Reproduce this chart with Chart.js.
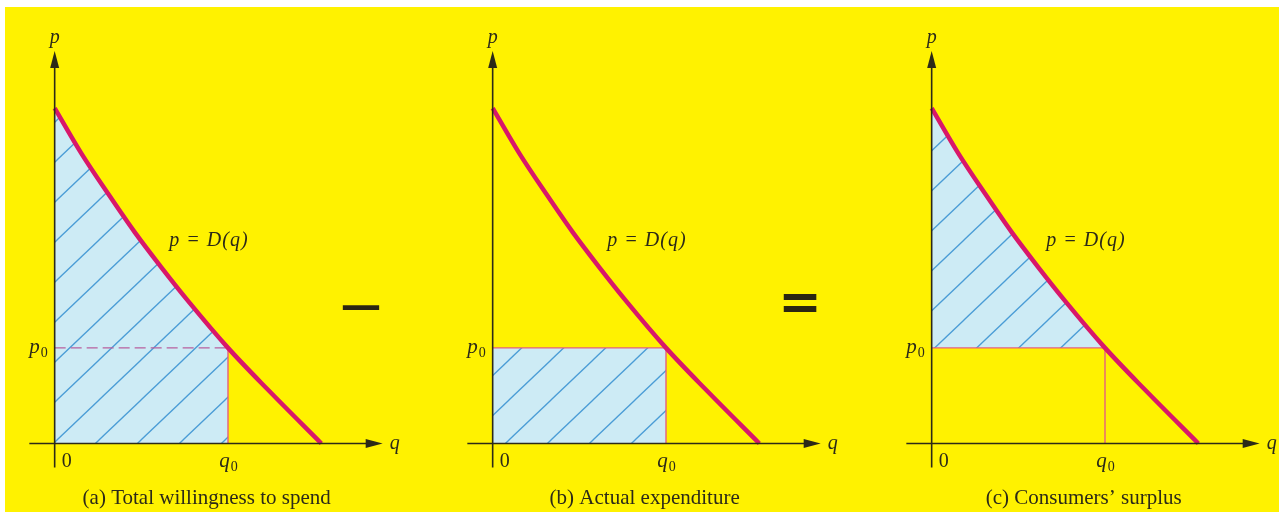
<!DOCTYPE html>
<html>
<head>
<meta charset="utf-8">
<script src="https://cdn.jsdelivr.net/npm/chart.js@4.4.1/dist/chart.umd.min.js"></script>
<style>
  body { margin: 0; width: 1285px; height: 518px; background: #fff; position: relative; overflow: hidden; }
  #bg { position: absolute; left: 5px; top: 7px; width: 1274px; height: 505px; background: #fff200; }
  .panel { position: absolute; top: 0; width: 408px; height: 518px; }
  .op { position: absolute; font-family: "DejaVu Sans"; color: #2b2612; line-height: 1; }
</style>
</head>
<body>
<div id="bg"></div>
<div class="panel" style="left:0"><canvas id="chartA" width="408" height="518"></canvas></div>
<div class="panel" style="left:438px"><canvas id="chartB" width="408" height="518"></canvas></div>
<div class="panel" style="left:877px"><canvas id="chartC" width="408" height="518"></canvas></div>
<div class="op" id="minus" style="font-size:58px">&minus;</div>
<div class="op" id="equals" style="font-size:52px;font-weight:bold">=</div>
<script>
// demand curve p = D(q) (q and p in arbitrary units)
const curveQ = [0, 1, 2, 3, 4, 5, 6.5, 8, 10];
const curveP = [10, 8.65, 7.45, 6.3, 5.25, 4.25, 2.85, 1.6, 0];
const q0 = 6.5;
const p0 = 2.85;

const curveLabel = "p = D(q)";
const captions = ["(a) Total willingness to spend", "(b) Actual expenditure", "(c) Consumers\u2019 surplus"];
const tickQ = ["0", "q"];   // "q" gets subscript 0
const tickP = ["p"];        // "p" gets subscript 0

const curveColor = "#d8186a";
const thinColor = "#e4607e";
const axisColor = "#2c2a18";
const textColor = "#2c2a18";

const pts = (qs, ps) => qs.map((q, i) => ({ x: q, y: ps[i] }));
const demand = pts(curveQ, curveP);
const upToQ0 = demand.filter(d => d.x <= q0);

function makeHatch(shiftX) {
  const w = 42, h = 40;
  const c = document.createElement("canvas");
  c.width = w; c.height = h;
  const g = c.getContext("2d");
  g.fillStyle = "#cdebf5";
  g.fillRect(0, 0, w, h);
  g.strokeStyle = "#4a9cd6";
  g.lineWidth = 1.3;
  for (let k = -1; k <= 1; k++) {
    g.beginPath();
    g.moveTo(-w + k * w, 2 * h);
    g.lineTo(2 * w + k * w, -h);
    g.stroke();
  }
  const pat = g.createPattern(c, "repeat");
  pat.setTransform(new DOMMatrix().translate(shiftX, 0));
  return pat;
}

function italicSub(ctx, base, x, y, align) {
  ctx.font = "italic 21px 'Liberation Serif'";
  const bw = ctx.measureText(base).width;
  ctx.font = "14px 'Liberation Serif'";
  const sw = ctx.measureText("0").width;
  let left = x;
  if (align === "center") left = x - (bw + sw) / 2;
  if (align === "right") left = x - (bw + sw);
  ctx.textAlign = "left";
  ctx.font = "italic 21px 'Liberation Serif'";
  ctx.fillText(base, left, y);
  ctx.font = "14px 'Liberation Serif'";
  ctx.fillText("0", left + bw + 1, y + 5);
}

const axesPlugin = {
  id: "axesPlugin",
  afterDatasetsDraw(chart, args, opts) {
    const { ctx, scales: { x, y } } = chart;
    const X = v => x.getPixelForValue(v);
    const Y = v => y.getPixelForValue(v);
    ctx.save();
    ctx.strokeStyle = axisColor;
    ctx.fillStyle = axisColor;
    ctx.lineWidth = 1.6;
    // q axis
    ctx.beginPath();
    ctx.moveTo(X(-0.95), Y(0));
    ctx.lineTo(X(12.3) - 10, Y(0));
    ctx.stroke();
    ctx.beginPath();
    ctx.moveTo(X(12.3), Y(0));
    ctx.lineTo(X(12.3) - 17, Y(0) - 4.5);
    ctx.lineTo(X(12.3) - 17, Y(0) + 4.5);
    ctx.closePath();
    ctx.fill();
    // p axis
    ctx.beginPath();
    ctx.moveTo(X(0), Y(-0.72));
    ctx.lineTo(X(0), Y(11.7) + 10);
    ctx.stroke();
    ctx.beginPath();
    ctx.moveTo(X(0), Y(11.7));
    ctx.lineTo(X(0) - 4.5, Y(11.7) + 17);
    ctx.lineTo(X(0) + 4.5, Y(11.7) + 17);
    ctx.closePath();
    ctx.fill();

    ctx.fillStyle = textColor;
    ctx.textBaseline = "middle";
    ctx.font = "italic 20px 'Liberation Serif'";
    ctx.textAlign = "center";
    ctx.fillText("p", X(0), Y(12.1));
    ctx.fillText("q", X(12.75), Y(0));
    ctx.font = "20px 'Liberation Serif'";
    ctx.fillText(tickQ[0], X(0.45), Y(-0.55));
    italicSub(ctx, tickQ[1], X(q0), Y(-0.55), "center");
    italicSub(ctx, tickP[0], X(-0.3), Y(p0), "right");

    ctx.font = "italic 20px 'Liberation Serif'";
    ctx.textAlign = "left";
    ctx.letterSpacing = "1px";
    ctx.fillText(curveLabel, X(4.3), Y(6.05));
    ctx.letterSpacing = "0px";

    ctx.font = "21px 'Liberation Serif'";
    ctx.textAlign = "center";
    ctx.fillText(opts.caption, X(5.7), 498);
    ctx.restore();
  }
};

function baseOptions(caption) {
  return {
    responsive: false,
    animation: false,
    layout: { padding: { left: 28, right: 20, top: 41, bottom: 41 } },
    scales: {
      x: { type: "linear", min: -1, max: 12.5, display: false },
      y: { type: "linear", min: -1, max: 12, display: false }
    },
    plugins: { legend: { display: false }, tooltip: { enabled: false }, axesPlugin: { caption } },
    elements: { point: { radius: 0 } }
  };
}

const curveSet = () => ({
  data: demand, borderColor: curveColor, borderWidth: 4.5,
  cubicInterpolationMode: "monotone", fill: false
});
const vLine = () => ({
  data: [{ x: q0, y: 0 }, { x: q0, y: p0 }], borderColor: thinColor, borderWidth: 1.4, fill: false
});
const hLine = dash => ({
  data: [{ x: 0, y: p0 }, { x: q0, y: p0 }], borderColor: dash ? "#b8609e" : thinColor,
  borderWidth: 1.4, borderDash: dash ? [11, 5] : [], fill: false
});

// (a) total willingness to spend
new Chart(document.getElementById("chartA"), {
  type: "line",
  data: { datasets: [
    curveSet(),
    hLine(true),
    vLine(),
    { data: upToQ0, borderWidth: 0, cubicInterpolationMode: "monotone",
      fill: "origin", backgroundColor: makeHatch(15) }
  ] },
  options: baseOptions(captions[0]),
  plugins: [axesPlugin]
});

// (b) actual expenditure
new Chart(document.getElementById("chartB"), {
  type: "line",
  data: { datasets: [
    curveSet(),
    vLine(),
    Object.assign(hLine(false), { fill: "origin", backgroundColor: makeHatch(29) })
  ] },
  options: baseOptions(captions[1]),
  plugins: [axesPlugin]
});

// (c) consumers' surplus
new Chart(document.getElementById("chartC"), {
  type: "line",
  data: { datasets: [
    curveSet(),
    hLine(false),
    vLine(),
    { data: upToQ0, borderWidth: 0, cubicInterpolationMode: "monotone",
      fill: { value: p0 }, backgroundColor: makeHatch(3) }
  ] },
  options: baseOptions(captions[2]),
  plugins: [axesPlugin]
});

// operator signs between the panels
function placeOp(id, cx, cy) {
  const el = document.getElementById(id);
  const r = el.getBoundingClientRect();
  el.style.left = (cx - r.width / 2) + "px";
  el.style.top = (cy - r.height / 2) + "px";
}
placeOp("minus", 361, 306);
placeOp("equals", 800, 301);
</script>
</body>
</html>
